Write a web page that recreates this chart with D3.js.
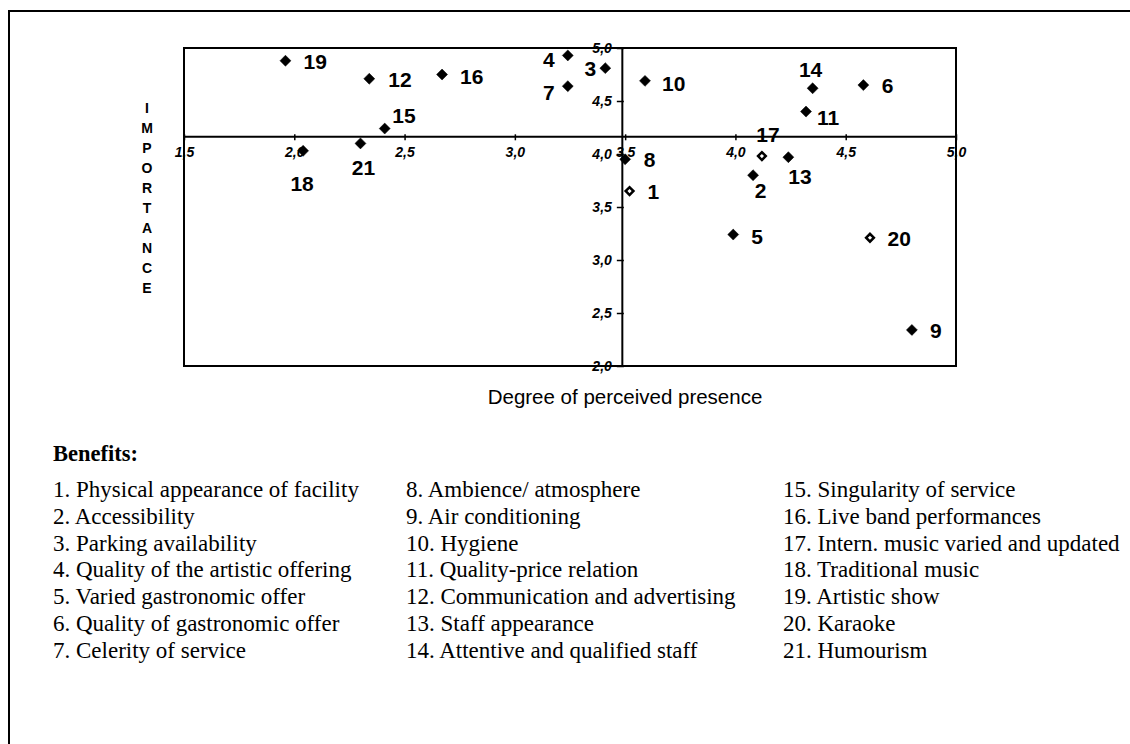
<!DOCTYPE html>
<html>
<head>
<meta charset="utf-8">
<script src="https://cdn.jsdelivr.net/npm/d3@7"></script>
<style>
  html, body { margin: 0; padding: 0; background: #fff; }
  svg { display: block; }
</style>
</head>
<body>
<svg id="chart" width="1130" height="744"></svg>
<script>
// ---------- DATA ----------
const benefitIds = [1, 2, 3, 4, 5, 6, 7, 8, 9, 10, 11, 12, 13, 14, 15, 16, 17, 18, 19, 20, 21];
const benefitNames = [
  "Physical appearance of facility", "Accessibility", "Parking availability",
  "Quality of the artistic offering", "Varied gastronomic offer", "Quality of gastronomic offer",
  "Celerity of service", "Ambience/ atmosphere", "Air conditioning", "Hygiene",
  "Quality-price relation", "Communication and advertising", "Staff appearance",
  "Attentive and qualified staff", "Singularity of service", "Live band performances",
  "Intern. music varied and updated", "Traditional music", "Artistic show", "Karaoke", "Humourism"
];
// Degree of perceived presence (x)
const presence   = [3.52, 4.08, 3.41, 3.24, 3.99, 4.58, 3.24, 3.50, 4.80, 3.59, 4.32, 2.34, 4.24, 4.35, 2.41, 2.67, 4.12, 2.04, 1.96, 4.61, 2.30];
// Importance (y)
const importance = [3.65, 3.80, 4.81, 4.93, 3.24, 4.65, 4.64, 3.95, 2.34, 4.69, 4.40, 4.71, 3.97, 4.62, 4.24, 4.75, 3.98, 4.03, 4.88, 3.21, 4.10];
const openMarkerIds = [1, 17, 20];
const xTicks = [1.5, 2.0, 2.5, 3.0, 3.5, 4.0, 4.5, 5.0];
const yTicks = [2.0, 2.5, 3.0, 3.5, 4.0, 4.5, 5.0];
const xDomain = [1.5, 5.0];
const yDomain = [2.0, 5.0];
const meanPresence = 3.485;   // vertical axis crossing
const meanImportance = 4.167; // horizontal axis crossing
const xTitle = "Degree of perceived presence";
const yTitle = "IMPORTANCE";
const legendTitle = "Benefits:";

// ---------- LAYOUT (label placement, not data) ----------
const labelPlacement = {
  1: [18, 8, "start"], 2: [7.5, 23, "middle"], 3: [-9, 8, "end"], 4: [-13, 11.5, "end"],
  5: [18, 9, "start"], 6: [18.5, 8, "start"], 7: [-13, 14, "end"], 8: [18.5, 8, "start"],
  9: [18, 8, "start"], 10: [17, 10, "start"], 11: [11, 13, "start"], 12: [19, 8.5, "start"],
  13: [0, 27, "start"], 14: [-2, -11.5, "middle"], 15: [7.5, -5.5, "start"], 16: [18, 9, "start"],
  17: [6, -14, "middle"], 18: [-1, 40, "middle"], 19: [18, 8, "start"], 20: [17.5, 8.5, "start"],
  21: [3, 32, "middle"]
};

const svg = d3.select("#chart");
const sans = "'Liberation Sans', Arial, Helvetica, sans-serif";
const serif = "'Liberation Serif', 'Times New Roman', Times, serif";

// outer border
svg.append("rect")
  .attr("x", 9).attr("y", 11).attr("width", 1140).attr("height", 760)
  .attr("fill", "none").attr("stroke", "#000").attr("stroke-width", 2);

const x = d3.scaleLinear().domain(xDomain).range([184, 956]);
const y = d3.scaleLinear().domain(yDomain).range([366, 48]);
const fmt = d => d3.format(".1f")(d).replace(".", ",");

// plot frame
svg.append("rect")
  .attr("x", x(xDomain[0])).attr("y", y(yDomain[1]))
  .attr("width", x(xDomain[1]) - x(xDomain[0]))
  .attr("height", y(yDomain[0]) - y(yDomain[1]))
  .attr("fill", "none").attr("stroke", "#000").attr("stroke-width", 2);

// x axis across at mean importance
const gx = svg.append("g")
  .attr("transform", `translate(0,${y(meanImportance)})`)
  .call(d3.axisBottom(x).tickValues(xTicks).tickFormat(fmt).tickSize(4).tickSizeOuter(0).tickPadding(7));
gx.select(".domain").attr("stroke-width", 2);
gx.selectAll(".tick line").attr("y1", -2).attr("stroke-width", 1.5);
gx.selectAll(".tick text")
  .attr("font-family", sans).attr("font-size", 14).attr("font-weight", "bold").attr("font-style", "italic");

// y axis at mean presence
const gy = svg.append("g")
  .attr("transform", `translate(${x(meanPresence)},0)`)
  .call(d3.axisLeft(y).tickValues(yTicks).tickFormat(fmt).tickSize(5).tickSizeOuter(0).tickPadding(5));
gy.select(".domain").attr("stroke-width", 2);
gy.selectAll(".tick line").attr("x1", 2).attr("stroke-width", 1.5);
gy.selectAll(".tick text")
  .attr("font-family", sans).attr("font-size", 14).attr("font-weight", "bold").attr("font-style", "italic");

// points
const points = benefitIds.map((id, i) => ({ id, px: presence[i], im: importance[i], open: openMarkerIds.includes(id) }));
const filledSym = d3.symbol().type(d3.symbolSquare).size(60);
const openSym = d3.symbol().type(d3.symbolSquare).size(30);

svg.append("g").selectAll("path")
  .data(points).join("path")
  .attr("transform", d => `translate(${x(d.px)},${y(d.im)}) rotate(45)`)
  .attr("d", d => d.open ? openSym() : filledSym())
  .attr("fill", d => d.open ? "#fff" : "#000")
  .attr("stroke", "#000")
  .attr("stroke-width", d => d.open ? 2.5 : 0.5);

svg.append("g").selectAll("text")
  .data(points).join("text")
  .attr("x", d => x(d.px) + labelPlacement[d.id][0])
  .attr("y", d => y(d.im) + labelPlacement[d.id][1])
  .attr("text-anchor", d => labelPlacement[d.id][2])
  .attr("font-family", sans).attr("font-size", 21).attr("font-weight", "bold")
  .text(d => d.id);

// axis titles
svg.append("text")
  .attr("x", 625).attr("y", 404)
  .attr("text-anchor", "middle")
  .attr("font-family", sans).attr("font-size", 20.5)
  .text(xTitle);

svg.append("g").selectAll("text")
  .data(yTitle.split("")).join("text")
  .attr("x", 147).attr("y", (d, i) => 113 + i * 20)
  .attr("text-anchor", "middle")
  .attr("font-family", sans).attr("font-size", 14).attr("font-weight", "bold")
  .text(d => d);

// legend
svg.append("text")
  .attr("x", 53).attr("y", 461)
  .attr("font-family", serif).attr("font-size", 22.5).attr("font-weight", "bold")
  .text(legendTitle);

const colX = [53, 406, 783];
svg.append("g").selectAll("text")
  .data(benefitIds).join("text")
  .attr("x", (d, i) => colX[Math.floor(i / 7)])
  .attr("y", (d, i) => 497 + (i % 7) * 26.8)
  .attr("font-family", serif).attr("font-size", 23)
  .text((d, i) => `${d}. ${benefitNames[i]}`);
</script>
</body>
</html>
